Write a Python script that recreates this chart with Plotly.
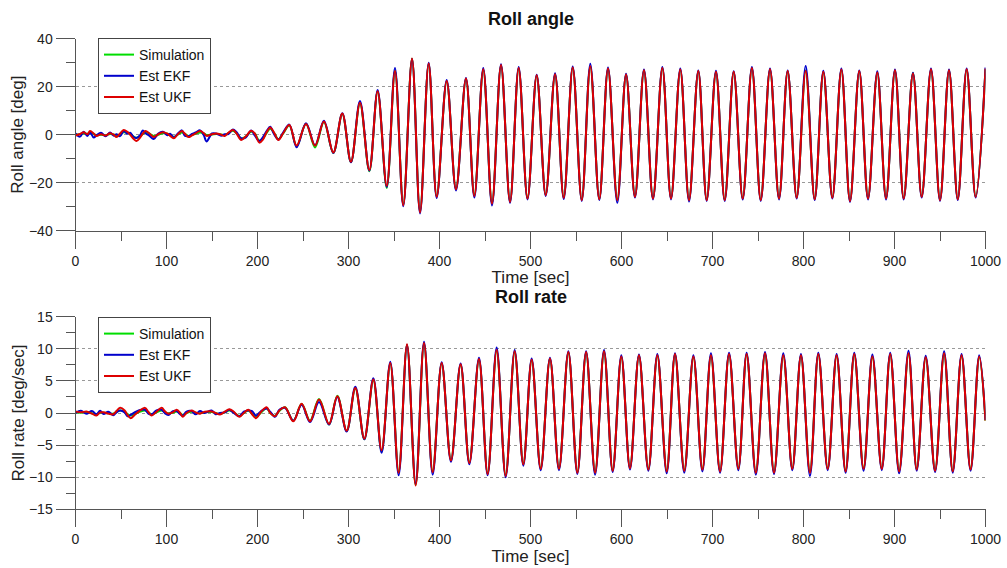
import plotly.graph_objects as go

# ---------------- DATA ----------------
# Roll angle: early low-amplitude segment (times in sec)
t_angle_early = [0, 5, 9, 13, 16, 20, 23, 28, 33, 38,
                 42, 45, 49, 53, 57, 60, 64, 67, 71, 74,
                 77, 81, 86, 91, 96, 101, 104, 108, 112, 117,
                 120, 124, 128, 132, 137, 141, 144, 150, 155, 160,
                 164, 168, 173, 177, 182, 187, 193, 197, 202, 206,
                 210, 214, 218, 223, 228]
angle_ukf_early = [-0.3, 0.3, 1.0, 0.2, 1.5, 0.5, -0.5, 0.2, -0.3, 0.6,
                   0.0, -1.0, 0.5, 2.0, 1.2, 0.0, -1.8, -2.6, -1.2, 0.5,
                   1.5, 0.6, -1.0, 0.2, 1.0, 0.4, -0.5, -1.5, 0.0, 1.5,
                   0.5, -1.0, -0.3, 0.6, 1.5, 0.6, -0.5, 0.2, 0.5, 0.0,
                   -0.5, 0.8, 2.0, 0.5, -2.2, -0.8, 1.6, 0.5, -3.3, -2.0,
                   1.0, 3.0, 1.0, -2.2, 0.5]
angle_ekf_early = [0.5, -0.8, 1.2, -0.5, 1.0, -1.2, -0.3, 0.8, -0.6, 0.9,
                   -0.4, 0.2, -0.6, 1.5, 0.4, 0.8, -1.0, -1.4, -0.2, 1.8,
                   0.6, -0.4, -1.8, 0.5, 1.2, -0.2, 0.4, -1.2, 0.3, 1.8,
                   -0.4, -0.6, 0.3, 0.9, 1.8, -0.2, -2.8, 0.5, 0.4, -0.4,
                   0.2, 0.3, 2.2, 1.0, -1.5, -1.2, 1.8, -0.3, -2.6, -1.0,
                   1.5, 3.3, 0.4, -2.0, 0.8]
angle_sim_early = [0.0, 0.2, 0.5, 0.4, 0.7, 0.3, -0.2, 0.0, -0.2, 0.3,
                   0.1, -0.5, 0.2, 1.0, 0.8, 0.2, -0.8, -1.3, -0.6, 0.3,
                   1.0, 0.5, -0.5, 0.0, 0.6, 0.4, -0.2, -0.9, -0.1, 0.9,
                   0.4, -0.5, -0.1, 0.4, 0.9, 0.5, -0.1, 0.1, 0.3, 0.1,
                   -0.1, 0.6, 1.6, 0.6, -1.6, -0.8, 1.2, 0.5, -2.5, -1.6,
                   0.7, 2.5, 0.9, -1.9, 0.4]

# Roll angle: oscillating segment (peaks / troughs)
t_angle_osc = [235, 243, 253.3, 263.2, 273, 283.3, 293.2, 302.7, 312.6, 322.9,
               332, 342, 351.1, 360.2, 369.8, 378.6, 388.1, 396.9, 407.9, 418.1,
               429.1, 438.3, 448.1, 457.7, 467.6, 477.5, 487, 496.7, 506.8, 516.7,
               527, 536.5, 546.4, 556.3, 565.7, 575.6, 585.2, 595.4, 605, 614.8,
               624.7, 634.6, 644.9, 654.4, 664.6, 674.2, 684.4, 693.6, 703.8, 713.4,
               723.3, 733.2, 743.3, 753, 763.2, 773.1, 782.6, 792.5, 802.4, 812.3,
               821.8, 831.7, 841.6, 851.1, 861.3, 870.9, 881.1, 890.7, 900.5, 910.1,
               920.3, 929.9, 940.1, 950, 959.9, 969.5, 979.3, 989.2, 1000]
angle_ukf_osc = [4.0, -4.5, 4.5, -4.6, 5.5, -7.4, 8.8, -11.3, 13.3, -14.8,
                 18.1, -21.3, 26.5, -29.4, 31.7, -32.4, 29.7, -25.9, 22.4, -22.7,
                 23.4, -25.5, 27.3, -28.7, 29.0, -28.0, 27.8, -26.6, 24.8, -25.2,
                 25.2, -26.3, 28.0, -27.3, 28.5, -26.9, 27.6, -27.3, 25.1, -25.9,
                 26.9, -26.6, 27.8, -26.6, 27.2, -27.3, 26.5, -27.3, 26.2, -27.3,
                 26.2, -26.6, 27.8, -27.3, 27.3, -26.6, 26.5, -26.3, 26.5, -26.9,
                 26.2, -26.3, 27.2, -27.7, 26.5, -26.6, 25.9, -26.6, 26.9, -26.6,
                 25.5, -25.9, 27.3, -27.3, 26.9, -26.9, 27.3, -25.9, 27.6]
angle_ekf_osc = [4.2, -5.2, 4.8, -4.4, 5.8, -7.6, 8.9, -11.5, 14.0, -15.0,
                 18.6, -21.8, 27.8, -29.8, 31.5, -32.8, 30.0, -26.4, 22.8, -23.2,
                 23.6, -26.2, 27.8, -29.5, 29.4, -28.4, 28.2, -27.0, 25.0, -25.5,
                 25.6, -26.8, 28.4, -27.6, 29.6, -27.2, 28.0, -28.4, 25.4, -26.2,
                 27.2, -27.0, 28.2, -27.0, 27.6, -27.8, 26.8, -27.6, 26.6, -27.6,
                 26.4, -27.0, 28.2, -27.6, 27.6, -27.0, 26.8, -26.6, 28.6, -27.2,
                 26.6, -26.6, 27.6, -28.0, 26.8, -27.0, 26.4, -27.0, 27.2, -27.0,
                 25.8, -26.2, 27.6, -27.6, 27.2, -27.2, 27.6, -26.2, 28.0]
angle_sim_osc = [3.8, -4.8, 4.6, -5.3, 5.3, -7.6, 8.6, -11.5, 13.0, -15.2,
                 18.0, -22.2, 26.8, -29.0, 31.6, -32.0, 29.5, -25.6, 22.2, -22.5,
                 23.2, -25.2, 27.0, -28.5, 28.8, -27.8, 27.5, -26.4, 24.6, -25.0,
                 25.0, -26.0, 27.8, -27.0, 28.3, -26.7, 27.4, -27.0, 25.0, -25.7,
                 26.7, -26.4, 27.6, -26.4, 27.0, -27.0, 26.3, -27.0, 26.0, -27.0,
                 26.0, -26.4, 27.6, -27.0, 27.1, -26.4, 26.3, -26.1, 26.8, -26.7,
                 26.0, -26.1, 27.0, -27.4, 26.3, -26.4, 25.7, -26.4, 26.7, -26.4,
                 25.7, -25.7, 27.0, -27.0, 26.7, -26.7, 27.0, -25.7, 27.3]

# Roll rate: early low-amplitude segment
t_rate_early = [0, 6, 12, 18, 23, 27, 31, 36, 41.5, 45,
                49, 54, 57, 60.6, 65, 70, 76.4, 80, 83.7, 89,
                94.7, 98, 102, 107, 111.2, 115, 117.8, 122, 127.6, 132,
                136.8, 142, 149.6, 154, 158.8, 164, 169, 174, 180, 185,
                189.9, 194, 198.3, 204, 210, 214, 219.2, 224]
rate_ukf_early = [0.25, 0.1, 0.25, -0.1, -0.4, 0.1, 0.1, -0.1, -0.2, 0.3,
                  0.8, 0.4, -0.3, -0.8, -0.3, 0.3, 0.8, 0.2, -0.4, 0.2,
                  0.8, 0.3, -0.1, 0.1, 0.5, 0.0, -0.6, 0.0, 0.4, 0.1,
                  -0.1, 0.2, 0.25, 0.0, -0.25, 0.2, 0.6, 0.2, -0.6, 0.0,
                  0.5, -0.2, -0.8, 0.2, 0.9, 0.0, -0.5, 0.4]
rate_ekf_early = [0.0, 0.35, -0.1, 0.3, -0.2, 0.35, -0.15, 0.2, -0.35, 0.1,
                  0.4, 0.1, -0.5, -0.3, 0.1, 0.45, 0.5, -0.1, -0.2, 0.4,
                  0.5, 0.0, -0.3, 0.3, 0.3, -0.2, -0.4, 0.2, 0.3, -0.2,
                  0.3, 0.0, 0.4, -0.2, 0.0, 0.1, 0.5, 0.0, -0.5, 0.2,
                  0.4, 0.3, -0.4, 0.3, 0.7, 0.2, -0.6, 0.5]
rate_sim_early = [0.1, 0.05, 0.15, -0.05, -0.2, 0.05, 0.05, -0.05, -0.1, 0.15,
                  0.4, 0.2, -0.15, -0.4, -0.15, 0.15, 0.4, 0.1, -0.2, 0.1,
                  0.4, 0.15, -0.05, 0.05, 0.25, 0.0, -0.3, 0.0, 0.2, 0.05,
                  -0.05, 0.1, 0.15, 0.0, -0.15, 0.1, 0.4, 0.1, -0.45, 0.0,
                  0.4, -0.1, -0.6, 0.1, 0.75, 0.0, -0.45, 0.3]

# Roll rate: oscillating segment (peaks / troughs)
t_rate_osc = [230.2, 239.4, 248.5, 257.7, 267.6, 278.6, 287.7, 298, 307.5, 317.4,
              327.3, 336.4, 345.9, 355.1, 364.3, 373.8, 383, 392.5, 402.4, 412.6,
              423.2, 432.8, 443.4, 452.9, 462.8, 472.7, 482.6, 492.1, 501.3, 511.2,
              521.4, 531.3, 541.6, 551.5, 561.1, 571, 580.8, 590.3, 599.8, 609.3,
              619.2, 629.5, 639.4, 649.7, 658.8, 669, 679, 688.9, 698.3, 708.3,
              718.2, 728.4, 737.5, 747.6, 757.7, 767.6, 777.8, 787.7, 797.2, 807.1,
              816.3, 826.6, 836.4, 846.3, 855.8, 866, 875.7, 886, 895.3, 905.1,
              915.4, 924.4, 934.3, 944.6, 954.5, 964, 973.7, 983.6, 993.1, 1000]
rate_ukf_osc = [0.9, -1.3, 1.45, -1.3, 2.1, -1.7, 2.6, -2.75, 3.9, -4.0,
                5.2, -5.8, 7.8, -9.3, 10.7, -11.3, 10.9, -9.2, 7.8, -7.4,
                7.6, -7.8, 8.4, -9.5, 9.8, -9.8, 9.6, -8.0, 8.3, -8.7,
                8.5, -8.7, 9.5, -9.3, 9.5, -9.3, 9.6, -9.0, 8.8, -8.6,
                9.0, -8.8, 9.0, -9.1, 9.2, -9.0, 8.8, -8.8, 9.0, -9.1,
                9.2, -8.7, 9.2, -9.3, 9.3, -9.3, 9.0, -8.7, 9.0, -9.3,
                9.2, -8.7, 9.0, -9.1, 9.2, -8.7, 8.8, -8.7, 9.2, -9.1,
                9.3, -8.8, 8.7, -9.0, 9.3, -9.1, 9.0, -8.8, 8.8, -1.2]
rate_ekf_osc = [0.8, -1.2, 1.3, -1.4, 1.7, -1.8, 2.5, -2.9, 4.1, -4.1,
                5.4, -6.2, 8.0, -9.7, 10.6, -11.0, 11.1, -9.6, 7.9, -7.6,
                7.7, -8.0, 8.6, -9.7, 10.2, -10.0, 9.8, -8.2, 8.5, -8.9,
                8.6, -8.9, 9.6, -9.5, 9.6, -9.6, 9.8, -9.2, 9.0, -8.8,
                9.1, -9.0, 9.2, -9.4, 9.3, -9.3, 9.0, -9.1, 9.3, -9.3,
                9.4, -8.9, 9.4, -9.6, 9.5, -9.5, 9.3, -8.9, 9.2, -9.8,
                9.4, -8.9, 9.2, -9.3, 9.4, -9.0, 9.1, -8.9, 9.4, -9.4,
                9.7, -9.0, 8.9, -9.2, 9.6, -9.3, 9.2, -9.0, 9.0, -1.1]
rate_sim_osc = [0.9, -1.2, 1.4, -1.2, 2.2, -1.8, 2.7, -2.8, 3.8, -4.1,
                5.1, -6.0, 7.7, -9.2, 10.6, -11.2, 10.8, -9.1, 7.7, -7.3,
                7.5, -7.7, 8.3, -9.4, 9.7, -9.7, 9.5, -7.9, 8.2, -8.6,
                8.4, -8.6, 9.4, -9.2, 9.4, -9.2, 9.5, -8.9, 8.7, -8.5,
                8.9, -8.7, 8.9, -9.0, 9.1, -8.9, 8.7, -8.7, 8.9, -9.0,
                9.1, -8.6, 9.1, -9.2, 9.2, -9.2, 8.9, -8.6, 8.9, -9.2,
                9.1, -8.6, 8.9, -9.0, 9.1, -8.6, 8.7, -8.6, 9.1, -9.0,
                9.2, -8.7, 8.6, -8.9, 9.2, -9.0, 8.9, -8.7, 8.7, -1.2]

series_names = ["Simulation", "Est EKF", "Est UKF"]
series_colors = ["#00DD00", "#0000CC", "#DD0000"]
x_tick_vals = [0, 100, 200, 300, 400, 500, 600, 700, 800, 900, 1000]

# ---------------- FIGURE ----------------
W, H = 1007, 568
FONT = "Arial, Liberation Sans, sans-serif"

t_angle = t_angle_early + t_angle_osc
t_rate = t_rate_early + t_rate_osc
angle_series = [angle_sim_early + angle_sim_osc,
                angle_ekf_early + angle_ekf_osc,
                angle_ukf_early + angle_ukf_osc]
rate_series = [rate_sim_early + rate_sim_osc,
               rate_ekf_early + rate_ekf_osc,
               rate_ukf_early + rate_ukf_osc]

fig = go.Figure()
for name, col, ys in zip(series_names, series_colors, angle_series):
    fig.add_trace(go.Scatter(x=t_angle, y=ys, mode="lines", name=name,
                             line=dict(color=col, width=2, shape="spline", smoothing=1.0),
                             xaxis="x", yaxis="y", legend="legend"))
for name, col, ys in zip(series_names, series_colors, rate_series):
    fig.add_trace(go.Scatter(x=t_rate, y=ys, mode="lines", name=name,
                             line=dict(color=col, width=2, shape="spline", smoothing=1.0),
                             xaxis="x2", yaxis="y2", legend="legend2"))

px = lambda v: v / W
py = lambda v: 1 - v / H
xdom = [px(75.5), px(985.5)]
AX = "#555555"

def xaxis_cfg(anchor):
    return dict(domain=xdom, anchor=anchor, range=[0, 1000], tickvals=x_tick_vals,
                automargin=False,
                ticks="outside", ticklen=17, tickwidth=1, tickcolor=AX,
                showline=True, linecolor=AX, linewidth=1, showgrid=False, zeroline=False,
                minor=dict(dtick=50, tick0=0, ticks="outside", ticklen=9, tickcolor=AX, showgrid=False),
                tickfont=dict(family=FONT, size=14, color="#222"),
                title=dict(text="Time [sec]", font=dict(family=FONT, size=17, color="#222"), standoff=0))

def yaxis_cfg(anchor, dom, rng, dtick, mdt, title):
    return dict(domain=dom, anchor=anchor, range=rng, dtick=dtick, tick0=0,
                automargin=False,
                ticks="outside", ticklen=19, tickwidth=1, tickcolor=AX,
                showline=True, linecolor=AX, linewidth=1,
                showgrid=True, gridcolor="#999999", griddash="dot", gridwidth=1, zeroline=False,
                minor=dict(dtick=mdt, tick0=0, ticks="outside", ticklen=9, tickcolor=AX, showgrid=False),
                tickfont=dict(family=FONT, size=14, color="#222"),
                title=dict(text=title, font=dict(family=FONT, size=17, color="#222"), standoff=0))

legend_cfg = dict(xanchor="left", yanchor="top", bgcolor="white", bordercolor="#444",
                  borderwidth=1, font=dict(family=FONT, size=14, color="#111"),
                  tracegroupgap=0)

fig.update_layout(
    width=W, height=H, autosize=False,
    margin=dict(l=0, r=0, t=0, b=0),
    paper_bgcolor="white", plot_bgcolor="white",
    showlegend=True,
    xaxis=xaxis_cfg("y"),
    yaxis=yaxis_cfg("x", [py(230.7), py(38.7)], [-40, 40], 20, 10, "Roll angle [deg]"),
    xaxis2=xaxis_cfg("y2"),
    yaxis2=yaxis_cfg("x2", [py(509.3), py(316.7)], [-15, 15], 5, 2.5, "Roll rate [deg/sec]"),
    legend=dict(x=px(98), y=py(38), **legend_cfg),
    legend2=dict(x=px(98), y=py(317), **legend_cfg),
    annotations=[
        dict(text="<b>Roll angle</b>", x=px(530.5), y=py(19), xref="paper", yref="paper",
             xanchor="center", yanchor="middle",
             showarrow=False, font=dict(family=FONT, size=18, color="#111")),
        dict(text="<b>Roll rate</b>", x=px(530.5), y=py(297), xref="paper", yref="paper",
             xanchor="center", yanchor="middle",
             showarrow=False, font=dict(family=FONT, size=18, color="#111")),
    ],
)

fig.write_html("out.html")
